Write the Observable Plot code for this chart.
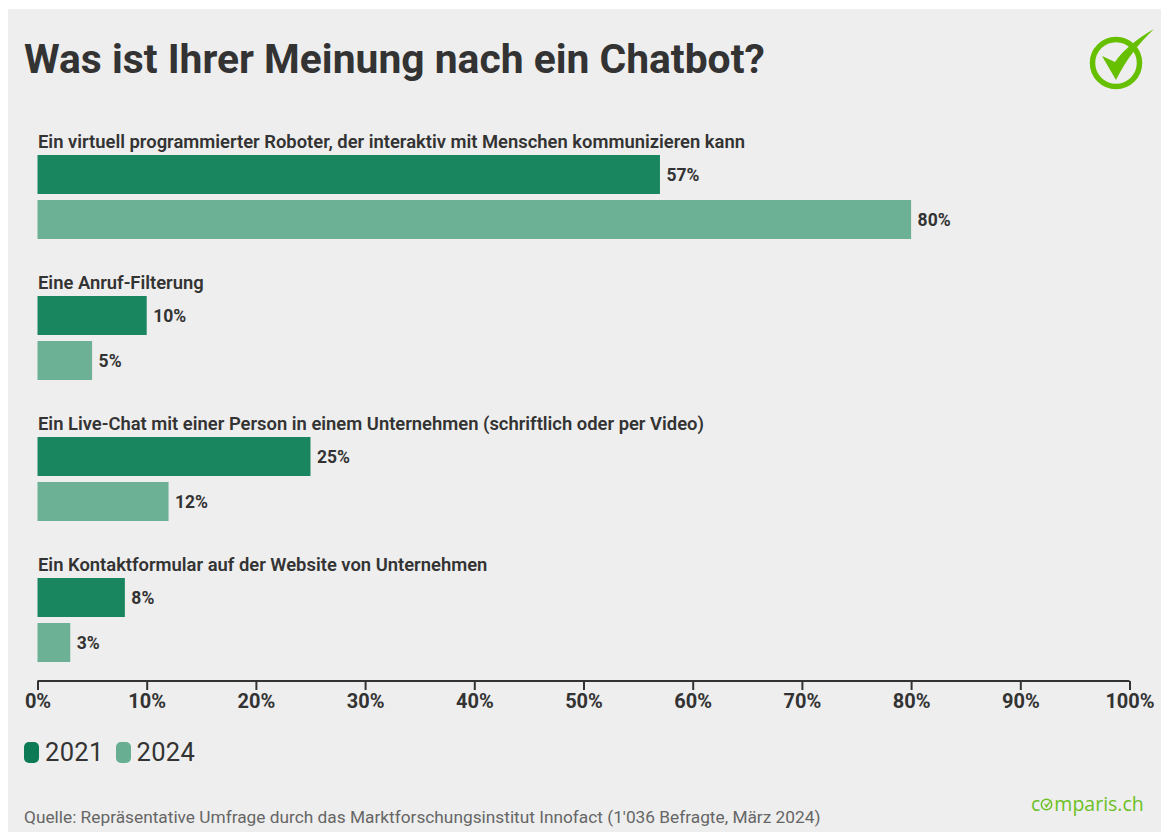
<!DOCTYPE html>
<html lang="de"><head><meta charset="utf-8">
<script src="https://cdn.jsdelivr.net/npm/d3@7"></script>
<script src="https://cdn.jsdelivr.net/npm/@observablehq/plot@0.6"></script>
<style>
html,body{margin:0;padding:0;background:#fff;}
body{width:1161px;height:832px;overflow:hidden;font-family:Roboto,sans-serif;position:relative;}
#panel{position:absolute;left:8px;top:9px;right:0;bottom:0;background:#eeeeee;}
#title{position:absolute;left:24px;top:35px;margin:0;font:700 40.8px/48px Roboto,sans-serif;color:#333;white-space:nowrap;}
#chart{position:absolute;left:0;top:0;}
#legend{position:absolute;left:24px;top:737px;font:400 25.5px/30px Roboto,sans-serif;color:#333;display:flex;align-items:center;letter-spacing:.3px;}
#legend i{display:inline-block;width:15px;height:21px;border-radius:5px;margin-right:6px;}
#legend span{margin-right:12px;}
#source{position:absolute;left:24px;top:807px;font:400 17.3px/20px Roboto,sans-serif;color:#666;white-space:nowrap;}
#logo{position:absolute;left:1088px;top:26px;}
#brand{position:absolute;left:1031px;top:791px;font:400 19.5px/26px "Open Sans",sans-serif;color:#6cc024;white-space:nowrap;display:flex;align-items:baseline;}
#brand svg{margin:0 0 -1px 0;}
</style></head><body>
<div id="panel"></div>
<div id="chart"></div>
<h1 id="title">Was ist Ihrer Meinung nach ein Chatbot?</h1>
<svg id="logo" width="68" height="66" viewBox="0 0 68 66"><circle cx="28" cy="37" r="23.5" fill="none" stroke="#66c000" stroke-width="5.5"/><path d="M14 30 L27 36 C35 24 50 12 66 3 C50 18 38 34 28 54 Z" fill="#66c000"/></svg>
<div id="legend"><i style="background:#0c7a54"></i><span>2021</span><i style="background:#67ae92"></i><span>2024</span></div>
<div id="source">Quelle: Repräsentative Umfrage durch das Marktforschungsinstitut Innofact (1'036 Befragte, März 2024)</div>
<div id="brand">c<svg width="14" height="14" viewBox="0 0 14 14"><circle cx="6.5" cy="7.5" r="5.2" fill="none" stroke="#6cc024" stroke-width="1.5"/><path d="M3.5 6 L6.3 8 L12.5 1.5 L6.5 11 Z" fill="#6cc024"/></svg>mparis.ch</div>
<script>
const categories = [
  "Ein virtuell programmierter Roboter, der interaktiv mit Menschen kommunizieren kann",
  "Eine Anruf-Filterung",
  "Ein Live-Chat mit einer Person in einem Unternehmen (schriftlich oder per Video)",
  "Ein Kontaktformular auf der Website von Unternehmen"
];
const years = ["2021", "2024"];
const values2021 = [57, 10, 25, 8];
const values2024 = [80, 5, 12, 3];
const yearColors = ["#1a8660", "#6cb195"];
const xTicks = [0,10,20,30,40,50,60,70,80,90,100];

const rows = categories.flatMap((category, i) => [
  {category, year: years[0], value: values2021[i]},
  {category, year: years[1], value: values2024[i]}
]);
const font = "Roboto, sans-serif";
const chart = Plot.plot({
  width: 1161, height: 832,
  marginLeft: 37.5, marginRight: 31.5, marginTop: 153, marginBottom: 168,
  style: {background: "transparent", fontFamily: font},
  x: {domain: [0, 100], axis: null},
  y: {domain: years, axis: null, paddingInner: 0.13, paddingOuter: 0},
  fy: {domain: categories, axis: null, paddingInner: 0.39, paddingOuter: 0},
  color: {domain: years, range: yearColors},
  marks: [
    Plot.barX(rows, {x: "value", y: "year", fy: "category", fill: "year"}),
    Plot.text(rows, {x: "value", y: "year", fy: "category", text: d => d.value + "%", textAnchor: "start", dx: 6, fontSize: 17.5, fontWeight: 700, fill: "#333"}),
    Plot.text(categories, {x: () => 0, y: () => years[0], fy: d => d, text: d => d, textAnchor: "start", dy: -33, fontSize: 18.4, fontWeight: 600, fill: "#333"}),
    Plot.ruleY([categories[3]], {y: () => years[1], fy: d => d, x1: 0, x2: 100, dy: 38, stroke: "#333", strokeWidth: 2}),
    Plot.tickX(xTicks, {x: d => d, y: () => years[1], fy: () => categories[3], stroke: "#333", strokeWidth: 2, dy: 28, insetTop: 30}),
    Plot.text(xTicks, {x: d => d, y: () => years[1], fy: () => categories[3], text: d => d + "%", dy: 59, fontSize: 20, fontWeight: 700, fill: "#333"})
  ]
});
document.getElementById("chart").appendChild(chart);
</script>
</body></html>
